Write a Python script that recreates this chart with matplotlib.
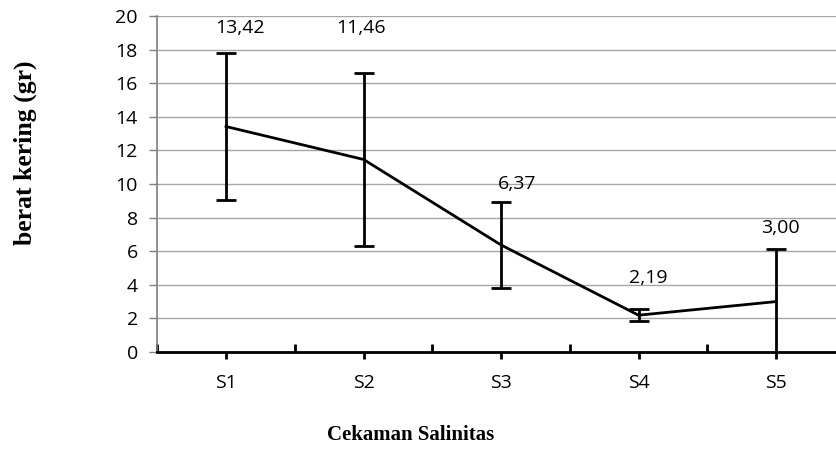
import numpy as np
import matplotlib.pyplot as plt

categories = ["S1", "S2", "S3", "S4", "S5"]
means = [13.42, 11.46, 6.37, 2.19, 3.00]
errors = [4.36, 5.13, 2.57, 0.36, 3.12]
value_labels = ["13,42", "11,46", "6,37", "2,19", "3,00"]
label_y = [19.3, 19.3, 10.0, 4.4, 7.4]
label_dx = [0.1, -0.02, 0.12, 0.07, 0.03]

fig = plt.figure(figsize=(8.37, 4.5), dpi=100)
ax = fig.add_axes([0.1879, 0.2178, 0.8214, 0.7467])

x = np.arange(len(categories))
ax.errorbar(x, means, yerr=errors, color='black', lw=2, elinewidth=2,
            capsize=7.5, capthick=2, zorder=3)

for xi, dx, ly, txt in zip(x, label_dx, label_y, value_labels):
    ax.text(xi + dx, ly, txt, ha='center', va='center', fontsize=14,
            family='Open Sans', zorder=4)

ax.set_xlim(-0.5, 4.5)
ax.set_ylim(0, 20)
ax.set_yticks(np.arange(0, 21, 2))
ax.set_yticklabels([str(v) for v in range(0, 21, 2)], family='Open Sans', fontsize=14)
ax.set_xticks(x)
ax.set_xticklabels(categories, family='Open Sans', fontsize=14)
ax.set_xticks(np.arange(-0.5, 5, 1), minor=True)

ax.grid(axis='y', color='#a6a6a6', lw=1, zorder=0)
ax.set_axisbelow(True)

for s in ['top', 'right']:
    ax.spines[s].set_visible(False)
ax.spines['left'].set_color('#7f7f7f')
ax.spines['left'].set_linewidth(1.2)
ax.spines['bottom'].set_color('black')
ax.spines['bottom'].set_linewidth(2)

ax.tick_params(axis='y', direction='out', length=6, width=1, color='#7f7f7f', pad=8)
ax.tick_params(axis='x', which='major', direction='out', length=5, width=2,
               color='black', pad=11)
ax.tick_params(axis='x', which='minor', direction='in', length=6, width=2,
               color='black')

fig.text(0.030, 0.66, "berat kering (gr)", rotation=90, ha='center', va='center',
         family='Liberation Serif', fontweight='bold', fontsize=18.5)
fig.text(0.491, 0.033, "Cekaman Salinitas", ha='center', va='center',
         family='Liberation Serif', fontweight='bold', fontsize=15)

fig.savefig("out.png", dpi=100)
